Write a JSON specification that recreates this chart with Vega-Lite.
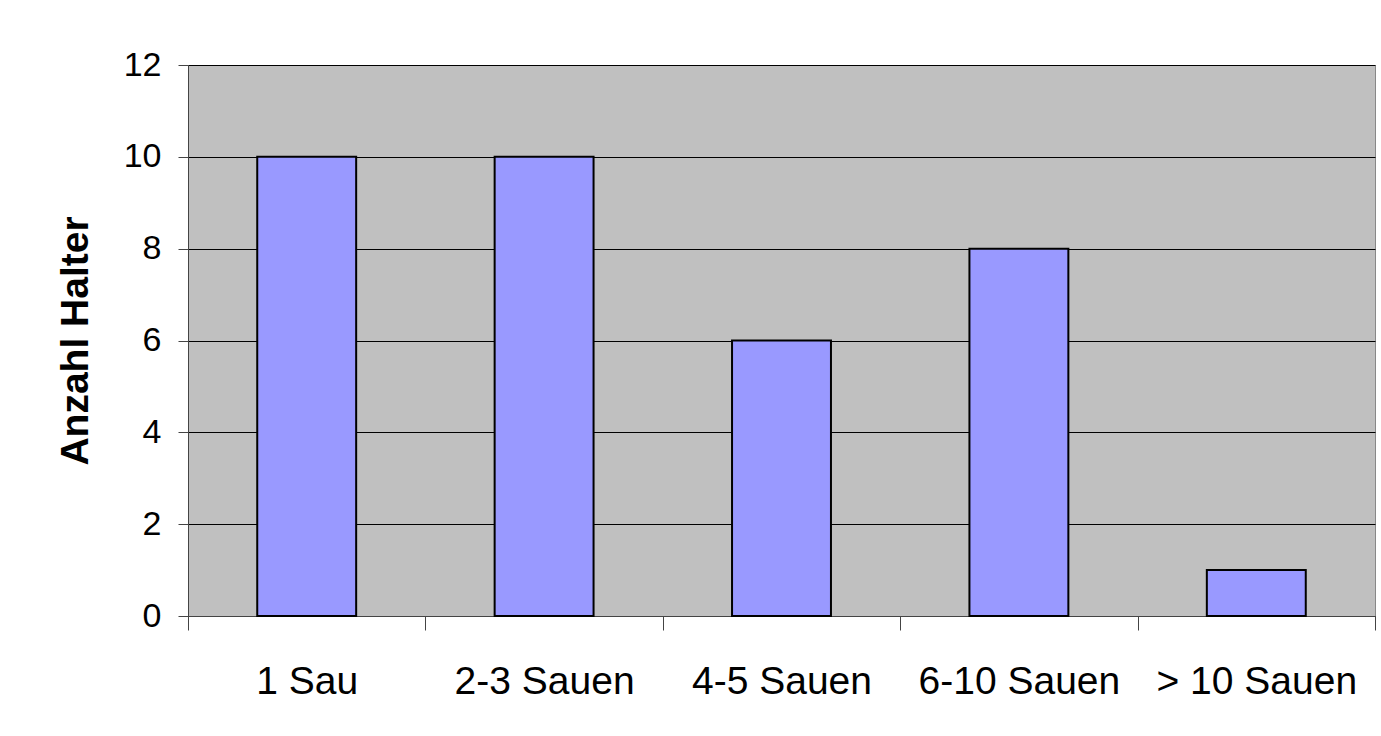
{
  "$schema": "https://vega.github.io/schema/vega-lite/v6.json",
  "width": 1187,
  "height": 551,
  "autosize": {"type": "none"},
  "padding": {"left": 188, "top": 65, "right": 6, "bottom": 120},
  "background": "white",
  "data": {
    "values": [
      {"Gruppe": "1 Sau", "Anzahl": 10},
      {"Gruppe": "2-3 Sauen", "Anzahl": 10},
      {"Gruppe": "4-5 Sauen", "Anzahl": 6},
      {"Gruppe": "6-10 Sauen", "Anzahl": 8},
      {"Gruppe": "> 10 Sauen", "Anzahl": 1}
    ]
  },
  "mark": {
    "type": "bar",
    "fill": "#9999FF",
    "stroke": "#000000",
    "strokeWidth": 2,
    "width": {"band": 0.4167}
  },
  "encoding": {
    "x": {
      "field": "Gruppe",
      "type": "nominal",
      "sort": null,
      "scale": {"paddingInner": 0, "paddingOuter": 0},
      "axis": {
        "title": null,
        "labelAngle": 0,
        "labelFont": "Liberation Sans",
        "labelFontSize": 39,
        "labelColor": "#000000",
        "labelLimit": 0,
        "labelOverlap": false,
        "labelPadding": 32,
        "tickBand": "extent",
        "tickSize": 14,
        "tickColor": "#444444",
        "domainColor": "#444444",
        "grid": false
      }
    },
    "y": {
      "field": "Anzahl",
      "type": "quantitative",
      "scale": {"domain": [0, 12], "nice": false},
      "axis": {
        "title": "Anzahl Halter",
        "titleFont": "Liberation Sans",
        "titleFontSize": 39,
        "titleFontWeight": "bold",
        "titleColor": "#000000",
        "titlePadding": 28,
        "values": [0, 2, 4, 6, 8, 10, 12],
        "labelFont": "Liberation Sans",
        "labelFontSize": 34,
        "labelColor": "#000000",
        "labelPadding": 17,
        "tickSize": 10,
        "tickColor": "#444444",
        "domainColor": "#444444",
        "grid": true,
        "gridColor": "#000000",
        "gridWidth": 1
      }
    }
  },
  "config": {
    "view": {"fill": "#C0C0C0", "stroke": "#888888", "strokeWidth": 1}
  }
}
